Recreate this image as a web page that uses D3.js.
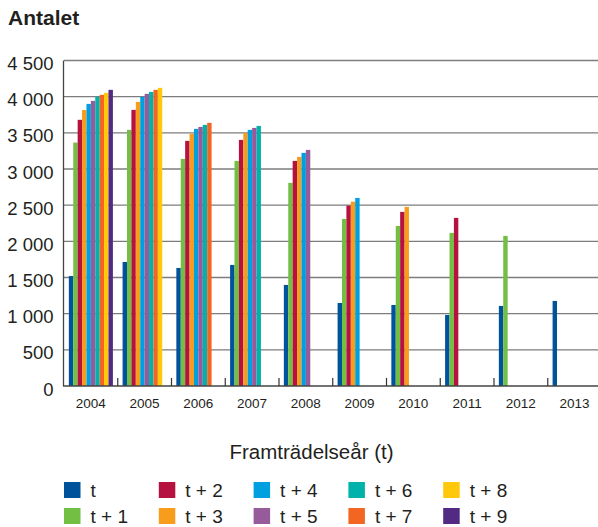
<!DOCTYPE html>
<html>
<head>
<meta charset="utf-8">
<script src="https://cdn.jsdelivr.net/npm/d3@7"></script>
<style>
  html, body { margin: 0; padding: 0; background: #fff; }
  svg { display: block; font-family: "Liberation Sans", Arial, Helvetica, sans-serif; }
</style>
</head>
<body>
<svg id="chart" width="598" height="527"></svg>
<script>
// Year of first appearance (t) and the counts for each following year t .. t+9
const years = ["2004", "2005", "2006", "2007", "2008", "2009", "2010", "2011", "2012", "2013"];
const seriesNames = ["t", "t + 1", "t + 2", "t + 3", "t + 4", "t + 5", "t + 6", "t + 7", "t + 8", "t + 9"];
const seriesColors = ["#00529b", "#72bf44", "#b5123f", "#f89c1c", "#00a0e0",
                      "#975a9a", "#00b2a9", "#f26522", "#ffc80a", "#522a84"];

// one array per year, values in order t, t+1, ...
const v2004 = [1520, 3365, 3680, 3815, 3900, 3942, 4000, 4025, 4053, 4094];
const v2005 = [1715, 3541, 3817, 3928, 3997, 4039, 4066, 4094, 4122];
const v2006 = [1632, 3140, 3389, 3485, 3555, 3582, 3610, 3638];
const v2007 = [1674, 3112, 3402, 3499, 3541, 3568, 3596];
const v2008 = [1397, 2808, 3112, 3167, 3223, 3264];
const v2009 = [1148, 2310, 2494, 2549, 2600];
const v2010 = [1120, 2213, 2407, 2476];
const v2011 = [982, 2116, 2324];
const v2012 = [1107, 2075];
const v2013 = [1176];
const valuesByYear = [v2004, v2005, v2006, v2007, v2008, v2009, v2010, v2011, v2012, v2013];

const yTicks = [0, 500, 1000, 1500, 2000, 2500, 3000, 3500, 4000, 4500];

const svg = d3.select("#chart");
const fmt = v => d3.format(",")(v).replace(/,/g, "\u2009".replace("\u2009", " "));

const plot = { left: 64, right: 601.5, top: 60.5, bottom: 386 };

const x0 = d3.scaleBand().domain(years).range([plot.left, plot.right]).padding(0);
const x1 = d3.scaleBand().domain(seriesNames).range([0, x0.bandwidth()])
  .paddingInner(0).paddingOuter(1.1);
const y = d3.scaleLinear().domain([0, 4500]).range([plot.bottom, plot.top]);
const color = d3.scaleOrdinal().domain(seriesNames).range(seriesColors);

// title
svg.append("text")
  .attr("x", 8).attr("y", 25)
  .attr("font-size", 21).attr("font-weight", "bold").attr("fill", "#231f20")
  .text("Antalet");

// horizontal gridlines
svg.append("g").selectAll("line")
  .data(yTicks.filter(d => d > 0))
  .join("line")
  .attr("x1", plot.left).attr("x2", 598)
  .attr("y1", d => y(d)).attr("y2", d => y(d))
  .attr("stroke", "#7d7d7d").attr("stroke-width", 1.3);

// y tick labels
svg.append("g").selectAll("text")
  .data(yTicks)
  .join("text")
  .attr("x", 53.5).attr("y", d => y(d) + 9.5)
  .attr("text-anchor", "end")
  .attr("font-size", 18.5).attr("fill", "#231f20")
  .text(d => fmt(d));

// bars
const rows = [];
valuesByYear.forEach((vals, i) => {
  vals.forEach((v, k) => rows.push({ year: years[i], series: seriesNames[k], value: v }));
});

svg.append("g").selectAll("rect")
  .data(rows)
  .join("rect")
  .attr("x", d => x0(d.year) + x1(d.series))
  .attr("width", x1.bandwidth())
  .attr("y", d => y(d.value))
  .attr("height", d => y(0) - y(d.value))
  .attr("fill", d => color(d.series));

// y axis line
svg.append("line")
  .attr("x1", plot.left - 0.5).attr("x2", plot.left - 0.5)
  .attr("y1", plot.top).attr("y2", plot.bottom)
  .attr("stroke", "#444").attr("stroke-width", 1.3);

// x axis baseline and inside ticks at band boundaries
svg.append("line")
  .attr("x1", plot.left - 1).attr("x2", 598)
  .attr("y1", plot.bottom).attr("y2", plot.bottom)
  .attr("stroke", "#444").attr("stroke-width", 1.3);

svg.append("g").selectAll("line")
  .data(years.slice(1))
  .join("line")
  .attr("x1", d => x0(d)).attr("x2", d => x0(d))
  .attr("y1", plot.bottom - 8).attr("y2", plot.bottom)
  .attr("stroke", "#333").attr("stroke-width", 1.2);

// x labels
svg.append("g").selectAll("text")
  .data(years)
  .join("text")
  .attr("x", d => x0(d) + x0.bandwidth() / 2)
  .attr("y", 407.5)
  .attr("text-anchor", "middle")
  .attr("font-size", 13.5).attr("fill", "#231f20")
  .text(d => d);

// axis title
svg.append("text")
  .attr("x", 311.5).attr("y", 459)
  .attr("text-anchor", "middle")
  .attr("font-size", 20.5).attr("fill", "#231f20")
  .text("Framträdelseår (t)");

// legend: two rows, five columns (t, t+2, ... on top; t+1, t+3, ... below)
const legend = svg.append("g").selectAll("g")
  .data(seriesNames)
  .join("g")
  .attr("transform", (d, i) => {
    const col = Math.floor(i / 2), row = i % 2;
    return `translate(${64 + col * 94.8},${482 + row * 26})`;
  });

legend.append("rect")
  .attr("width", 16.5).attr("height", 16)
  .attr("fill", d => color(d));

legend.append("text")
  .attr("x", 26.5).attr("y", 14.5)
  .attr("font-size", 19).attr("fill", "#231f20")
  .text(d => d);
</script>
</body>
</html>
